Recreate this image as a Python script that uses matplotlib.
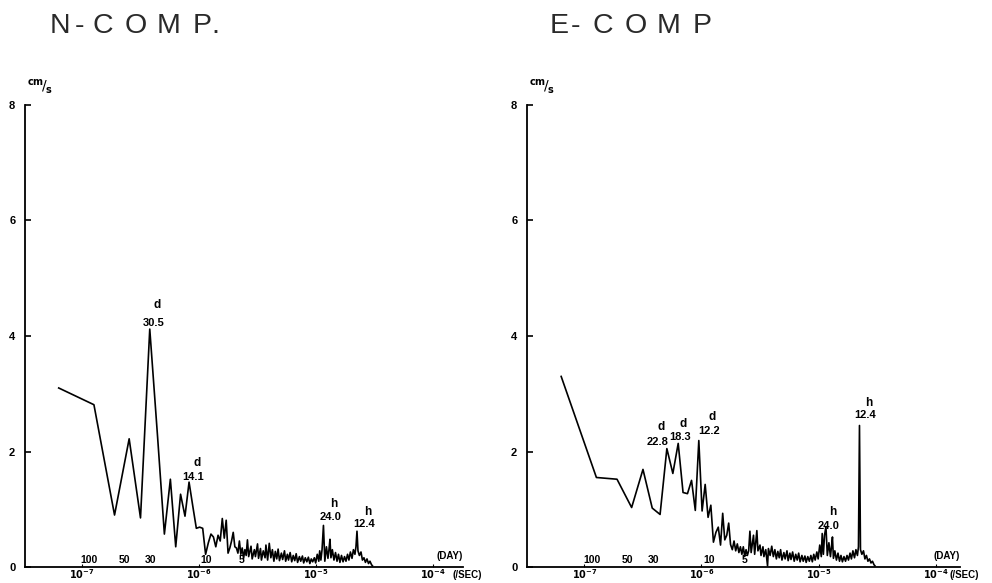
import numpy as np
import matplotlib.pyplot as plt

# spectra are harmonics k * DF of a 183-day record
DF = 1.0 / (183 * 86400)

# low harmonics, k = 1..34, amplitude in cm/s
N_LF_AMP = [
    3.10, 2.81, 0.90, 2.22, 0.85, 4.12, 2.25, 0.57, 1.52, 0.35,
    1.26, 0.88, 1.47, 1.05, 0.67, 0.69, 0.67, 0.22, 0.42, 0.57,
    0.52, 0.35, 0.55, 0.45, 0.84, 0.50, 0.81, 0.24, 0.33, 0.45,
    0.60, 0.35, 0.33, 0.24,
]
E_LF_AMP = [
    3.30, 1.55, 1.52, 1.03, 1.69, 1.02, 0.91, 2.05, 1.62, 2.14,
    1.29, 1.27, 1.50, 0.98, 2.19, 0.97, 1.43, 0.86, 1.07, 0.43,
    0.60, 0.69, 0.38, 0.93, 0.47, 0.55, 0.76, 0.39, 0.30, 0.45,
    0.28, 0.40, 0.25, 0.35,
]

HF_K = [
    35, 36, 37, 38, 39, 40, 41, 42, 44, 45,
    47, 48, 50, 51, 53, 54, 56, 58, 59, 61,
    63, 65, 67, 69, 71, 73, 75, 77, 80, 82,
    85, 87, 90, 92, 95, 98, 101, 104, 107, 110,
    114, 117, 121, 124, 128, 132, 136, 140, 144, 148,
    153, 157, 162, 167, 170, 174, 178, 183, 188, 194,
    200, 204, 208, 212, 218, 225, 232, 239, 246, 253,
    261, 269, 277, 285, 294, 302, 311, 321, 330, 340,
    347, 354, 361, 371, 383, 394, 406, 418, 431, 444, 457, 471, 480,
]
N_HF_AMP = [
    0.45, 0.22, 0.33, 0.15, 0.30, 0.20, 0.47, 0.18, 0.36, 0.14,
    0.30, 0.18, 0.40, 0.15, 0.32, 0.12, 0.28, 0.16, 0.38, 0.12,
    0.41, 0.16, 0.30, 0.10, 0.27, 0.14, 0.31, 0.11, 0.24, 0.13,
    0.28, 0.10, 0.22, 0.12, 0.25, 0.09, 0.20, 0.11, 0.23, 0.08,
    0.18, 0.10, 0.19, 0.07, 0.16, 0.09, 0.17, 0.06, 0.14, 0.09,
    0.16, 0.07, 0.22, 0.10, 0.28, 0.12, 0.30, 0.72, 0.10, 0.35,
    0.15, 0.30, 0.48, 0.16, 0.30, 0.12, 0.25, 0.10, 0.22, 0.08,
    0.20, 0.09, 0.18, 0.10, 0.22, 0.12, 0.26, 0.15, 0.30, 0.22,
    0.35, 0.62, 0.28, 0.20, 0.26, 0.12, 0.16, 0.08, 0.14, 0.06, 0.10, 0.04, 0.02,
]
E_HF_AMP = [
    0.22, 0.35, 0.18, 0.30, 0.20, 0.28, 0.62, 0.25, 0.55, 0.22,
    0.63, 0.28, 0.38, 0.20, 0.35, 0.18, 0.30, 0.02, 0.32, 0.20,
    0.36, 0.18, 0.30, 0.14, 0.27, 0.16, 0.30, 0.12, 0.25, 0.14,
    0.28, 0.11, 0.24, 0.13, 0.26, 0.10, 0.22, 0.12, 0.24, 0.09,
    0.20, 0.10, 0.19, 0.08, 0.18, 0.10, 0.20, 0.09, 0.22, 0.12,
    0.26, 0.14, 0.38, 0.18, 0.58, 0.22, 0.55, 0.70, 0.20, 0.42,
    0.18, 0.35, 0.52, 0.15, 0.28, 0.12, 0.24, 0.10, 0.20, 0.09,
    0.18, 0.10, 0.20, 0.12, 0.24, 0.14, 0.28, 0.16, 0.30, 0.20,
    0.35, 2.45, 0.30, 0.22, 0.28, 0.14, 0.20, 0.10, 0.14, 0.07, 0.10, 0.04, 0.02,
]

PERIOD_DAYS = [100, 50, 30, 10, 5]
DECADES = [-7, -6, -5, -4]
Y_TICKS = [0, 2, 4, 6, 8]

# title letters and their left edge in pixels
N_TITLE = [("N", 50), ("-", 75), ("C", 93), ("O", 125), ("M", 157), ("P", 193), (".", 211)]
E_TITLE = [("E", 550), ("-", 571), ("C", 593), ("O", 625), ("M", 657), ("P", 693)]

# peak labels: letter, period, log10 f of label, amplitude of number, amplitude of letter
N_PEAKS = [
    ("d", "30.5", -6.389, 4.22, 4.54),
    ("d", "14.1", -6.047, 1.56, 1.80),
    ("h", "24.0", -4.880, 0.87, 1.09),
    ("h", "12.4", -4.585, 0.74, 0.95),
]
E_PEAKS = [
    ("d", "22.8", -6.372, 2.16, 2.42),
    ("d", "18.3", -6.184, 2.25, 2.48),
    ("d", "12.2", -5.936, 2.35, 2.60),
    ("h", "24.0", -4.910, 0.71, 0.95),
    ("h", "12.4", -4.598, 2.63, 2.84),
]

W, H = 992, 583
LABEL_FONT = dict(family=["Liberation Sans", "DejaVu Sans"], fontweight="bold")

fig = plt.figure(figsize=(W / 100, H / 100), dpi=100)


def draw_panel(left_px, right_px, x0_log, x1_log, lf_amp, hf_amp, peaks, title):
    ax = fig.add_axes([left_px / W, 1 - 567 / H, (right_px - left_px) / W, (567 - 105) / H])
    k = np.concatenate([np.arange(1, len(lf_amp) + 1), HF_K])
    amp = np.concatenate([lf_amp, hf_amp])
    ax.plot(k * DF, amp, color="black", lw=1.2)

    ax.set_xscale("log")
    ax.set_xlim(10 ** x0_log, 10 ** x1_log)
    ax.set_ylim(0, 8)
    for s in ("top", "right"):
        ax.spines[s].set_visible(False)
    for s in ("left", "bottom"):
        ax.spines[s].set_linewidth(1.3)

    ax.set_xticks([10.0 ** d for d in DECADES])
    ax.set_xticklabels([r"$\mathbf{10^{%d}}$" % d for d in DECADES], fontsize=7)
    ax.xaxis.set_minor_locator(plt.NullLocator())
    ax.tick_params(axis="x", direction="in", length=2, pad=0.5)
    ax.set_yticks(Y_TICKS)
    ax.set_yticklabels([str(v) for v in Y_TICKS], fontsize=8, **LABEL_FONT)
    ax.tick_params(axis="y", direction="in", length=4, width=1.2, pad=7)

    # period scale in days, just above the frequency axis
    for p in PERIOD_DAYS:
        ax.text(1.0 / (p * 86400), 0.04, str(p), ha="center", va="bottom",
                fontsize=7.5, **LABEL_FONT)
    ax.text(0.97, 0.012, "(DAY)", transform=ax.transAxes, ha="center", va="bottom",
            fontsize=7, clip_on=False, **LABEL_FONT)
    ax.text(1.01, -0.006, "(/SEC)", transform=ax.transAxes, ha="center", va="top",
            fontsize=7, clip_on=False, **LABEL_FONT)

    for letter, label, xl, ya, yb in peaks:
        ax.text(10 ** xl, ya, label, ha="center", va="center", fontsize=8, **LABEL_FONT)
        ax.text(10 ** (xl + 0.03), yb, letter, ha="center", va="center", fontsize=8.5, **LABEL_FONT)

    ax.text(0.004, 1.02, r"$^{\mathbf{cm}}\!/_{\mathbf{s}}$", transform=ax.transAxes,
            ha="left", va="bottom", fontsize=10)
    for ch, x_px in title:
        fig.text(x_px / W, 1 - 33 / H, ch, ha="left", va="baseline",
                 fontsize=20.5, family=["Liberation Sans", "DejaVu Sans"],
                 color="#2a2a2a")
    return ax


draw_panel(25, 463, -7.487, -3.744, N_LF_AMP, N_HF_AMP, N_PEAKS, N_TITLE)
draw_panel(527, 960, -7.491, -3.791, E_LF_AMP, E_HF_AMP, E_PEAKS, E_TITLE)

fig.savefig("out.png", dpi=100)
